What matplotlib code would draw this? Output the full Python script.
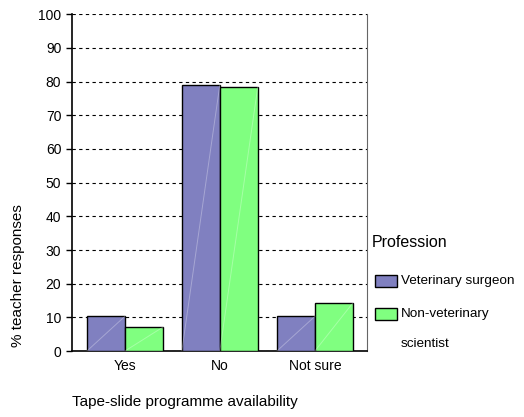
import numpy as np
import matplotlib
matplotlib.use("Agg")
import matplotlib.pyplot as plt
from matplotlib.patches import Rectangle

plt.rcParams['font.family'] = ['Liberation Sans', 'DejaVu Sans']

# data
kategorier = ['Yes', 'No', 'Not sure']
veterinar = [10.3, 79.0, 10.3]
ikke_veterinar = [7.1, 78.5, 14.3]
serienavn = ['Veterinary surgeon', 'Non-veterinary', 'scientist']

lilla = '#8080c0'
gronn = '#80ff80'

fig = plt.figure(figsize=(5.24, 4.17), dpi=100)
ax = fig.add_axes([0.137, 0.158, 0.563, 0.808])

x = np.arange(len(kategorier))
b = 0.4
s1 = ax.bar(x - b / 2, veterinar, b, color=lilla, edgecolor='black', linewidth=1, zorder=3)
s2 = ax.bar(x + b / 2, ikke_veterinar, b, color=gronn, edgecolor='black', linewidth=1, zorder=3)

# den svake diagonale streken i hver søyle
for p in list(s1) + list(s2):
    x0, y0 = p.get_x(), p.get_y()
    ax.plot([x0, x0 + p.get_width()], [y0, y0 + p.get_height()],
            color='white', alpha=0.3, lw=0.7, zorder=4)

ax.set_xlim(-0.558, 2.547)
ax.set_ylim(0, 100)
ax.set_yticks(range(0, 101, 10))
ax.set_xticks(x)
ax.set_xticklabels(kategorier)
ax.yaxis.grid(True, linestyle=(0, (3, 3)), color='black', linewidth=0.8, zorder=0)
ax.tick_params(axis='both', labelsize=10, length=4, width=1)
ax.tick_params(axis='x', length=0, pad=6)
ax.spines['top'].set_visible(False)
ax.spines['right'].set_color('#666666')
ax.spines['left'].set_linewidth(1.2)
ax.spines['bottom'].set_linewidth(1.2)

fig.text(0.035, 0.34, '% teacher responses', rotation=90, fontsize=11,
         ha='center', va='center')
fig.text(0.137, 0.036, 'Tape-slide programme availability', fontsize=11,
         ha='left', va='center')

# legende tegnet for hand
fig.text(0.71, 0.418, 'Profession', fontsize=11.5, ha='left', va='center')
fig.patches.append(Rectangle((0.716, 0.312), 0.042, 0.029, transform=fig.transFigure,
                             facecolor=lilla, edgecolor='black', lw=1, figure=fig))
fig.patches.append(Rectangle((0.716, 0.233), 0.042, 0.029, transform=fig.transFigure,
                             facecolor=gronn, edgecolor='black', lw=1, figure=fig))
fig.text(0.765, 0.326, serienavn[0], fontsize=9.7, ha='left', va='center')
fig.text(0.765, 0.247, serienavn[1], fontsize=9.7, ha='left', va='center')
fig.text(0.765, 0.175, serienavn[2], fontsize=9.7, ha='left', va='center')

fig.savefig('out.png', dpi=100)
